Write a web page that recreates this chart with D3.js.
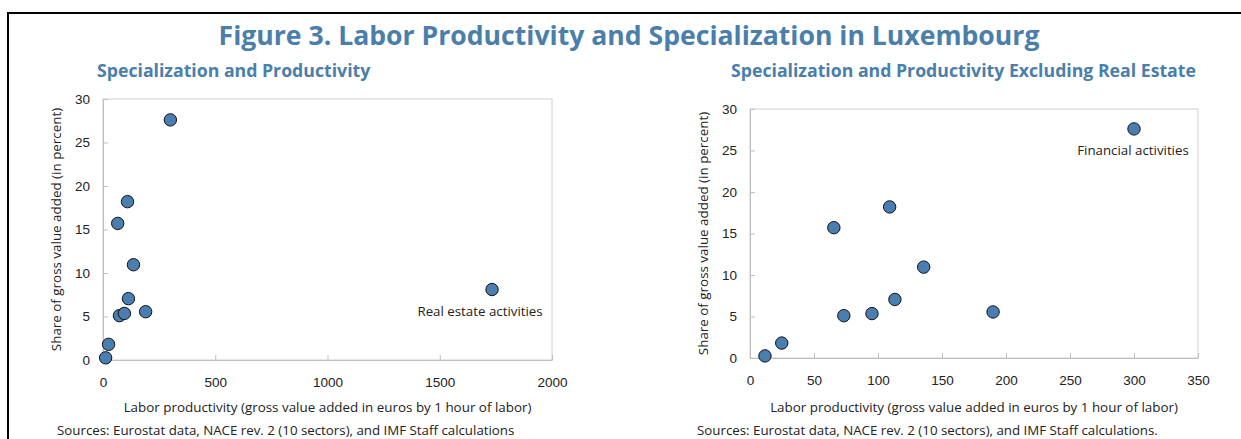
<!DOCTYPE html>
<html>
<head>
<meta charset="utf-8">
<script src="https://cdn.jsdelivr.net/npm/d3@7"></script>
<style>
  body { margin: 0; background: #fff; }
  svg { display: block; font-family: "Open Sans", "Noto Sans", sans-serif; }
  .tick text { font-size: 13.5px; fill: #222; }
  .domain { stroke: #bfbfbf; }
  .tick line { stroke: #bfbfbf; }
</style>
</head>
<body>
<div id="chart"></div>
<script>
// labor productivity (euros per hour) and share of GVA (%) by sector
var productivity = [11.7, 24.8, 65.5, 73.3, 95.3, 109.1, 113.2, 135.7, 189.9, 300, 1733];
var gvaShare     = [0.25, 1.8, 15.7, 5.1, 5.35, 18.2, 7.05, 10.95, 5.55, 27.6, 8.1];
var pointLabels  = ["", "", "", "", "", "", "", "", "", "Financial activities", "Real estate activities"];
var realEstateIdx = 10;

var xTicksAll = [0, 500, 1000, 1500, 2000];
var xTicksExcl = [0, 50, 100, 150, 200, 250, 300, 350];
var yTicks = [0, 5, 10, 15, 20, 25, 30];

var blue = "#4a7eb0", titleBlue = "#4a7eab";

var width = 1241, height = 439;
var svg = d3.select("#chart").append("svg")
    .attr("width", width)
    .attr("height", height);

// figure frame (runs off right/bottom)
svg.append("rect")
    .attr("x", 8).attr("y", 13)
    .attr("width", 1260).attr("height", 460)
    .attr("fill", "none").attr("stroke", "#000").attr("stroke-width", 2);

svg.append("text")
    .attr("x", 629).attr("y", 45)
    .attr("text-anchor", "middle")
    .style("font-size", "26.6px").style("font-weight", "bold")
    .attr("fill", titleBlue)
    .text("Figure 3. Labor Productivity and Specialization in Luxembourg");

function drawPanel(opts) {
    var x = d3.scaleLinear().domain(opts.xDomain).range([opts.left, opts.right]);
    var y = d3.scaleLinear().domain([0, 30]).range([opts.bottom, opts.top]);

    svg.append("text")
        .attr("x", opts.titleX).attr("y", 77)
        .style("font-size", "17.7px").style("font-weight", "bold")
        .attr("fill", titleBlue)
        .text(opts.title);

    // plot box
    svg.append("rect")
        .attr("x", opts.left).attr("y", opts.top)
        .attr("width", opts.right - opts.left).attr("height", opts.bottom - opts.top)
        .attr("fill", "none").attr("stroke", "#d0d0d0");

    var xAxis = d3.axisBottom(x).tickValues(opts.xTicks).tickFormat(d3.format("d"))
        .tickSizeInner(-5).tickSizeOuter(0).tickPadding(17);
    var yAxis = d3.axisLeft(y).tickValues(yTicks).tickSizeInner(-5).tickSizeOuter(0).tickPadding(13);

    svg.append("g")
        .attr("transform", "translate(0," + opts.bottom + ")")
        .call(xAxis);
    svg.append("g")
        .attr("transform", "translate(" + opts.left + ",0)")
        .call(yAxis);

    svg.append("text")
        .attr("x", (opts.left + opts.right) / 2).attr("y", 412)
        .attr("text-anchor", "middle")
        .style("font-size", "13.4px").attr("fill", "#222")
        .text("Labor productivity (gross value added in euros by 1 hour of labor)");

    svg.append("text")
        .attr("transform", "translate(" + (opts.left - 42) + "," + ((opts.top + opts.bottom) / 2) + ") rotate(-90)")
        .attr("text-anchor", "middle")
        .style("font-size", "13.4px").attr("fill", "#222")
        .text("Share of gross value added (in percent)");

    svg.append("text")
        .attr("x", opts.sourceX).attr("y", 435)
        .style("font-size", "13.3px").attr("fill", "#222")
        .text(opts.source);

    var idx = opts.indices;
    svg.selectAll(null)
        .data(idx)
        .enter().append("circle")
        .attr("cx", function(i) { return x(productivity[i]); })
        .attr("cy", function(i) { return y(gvaShare[i]); })
        .attr("r", 6.2)
        .attr("fill", blue)
        .attr("stroke", "#111")
        .attr("stroke-width", 1);

    svg.selectAll(null)
        .data(opts.labelled)
        .enter().append("text")
        .attr("x", function(i) { return x(productivity[i]) + opts.labelDx; })
        .attr("y", function(i) { return y(gvaShare[i]) + 26; })
        .attr("text-anchor", "middle")
        .style("font-size", "13.3px").attr("fill", "#222")
        .text(function(i) { return pointLabels[i]; });
}

var allIdx = d3.range(productivity.length);

drawPanel({
    left: 103, right: 552, top: 99, bottom: 360,
    xDomain: [0, 2000], xTicks: xTicksAll,
    title: "Specialization and Productivity", titleX: 97,
    source: "Sources: Eurostat data, NACE rev. 2 (10 sectors), and IMF Staff calculations", sourceX: 57,
    indices: allIdx, labelled: [realEstateIdx], labelDx: -12
});

drawPanel({
    left: 750, right: 1198, top: 109, bottom: 358,
    xDomain: [0, 350], xTicks: xTicksExcl,
    title: "Specialization and Productivity Excluding Real Estate", titleX: 731,
    source: "Sources: Eurostat data, NACE rev. 2 (10 sectors), and IMF Staff calculations.", sourceX: 697,
    indices: allIdx.filter(function(i) { return i !== realEstateIdx; }), labelled: [9], labelDx: -1
});
</script>
</body>
</html>
